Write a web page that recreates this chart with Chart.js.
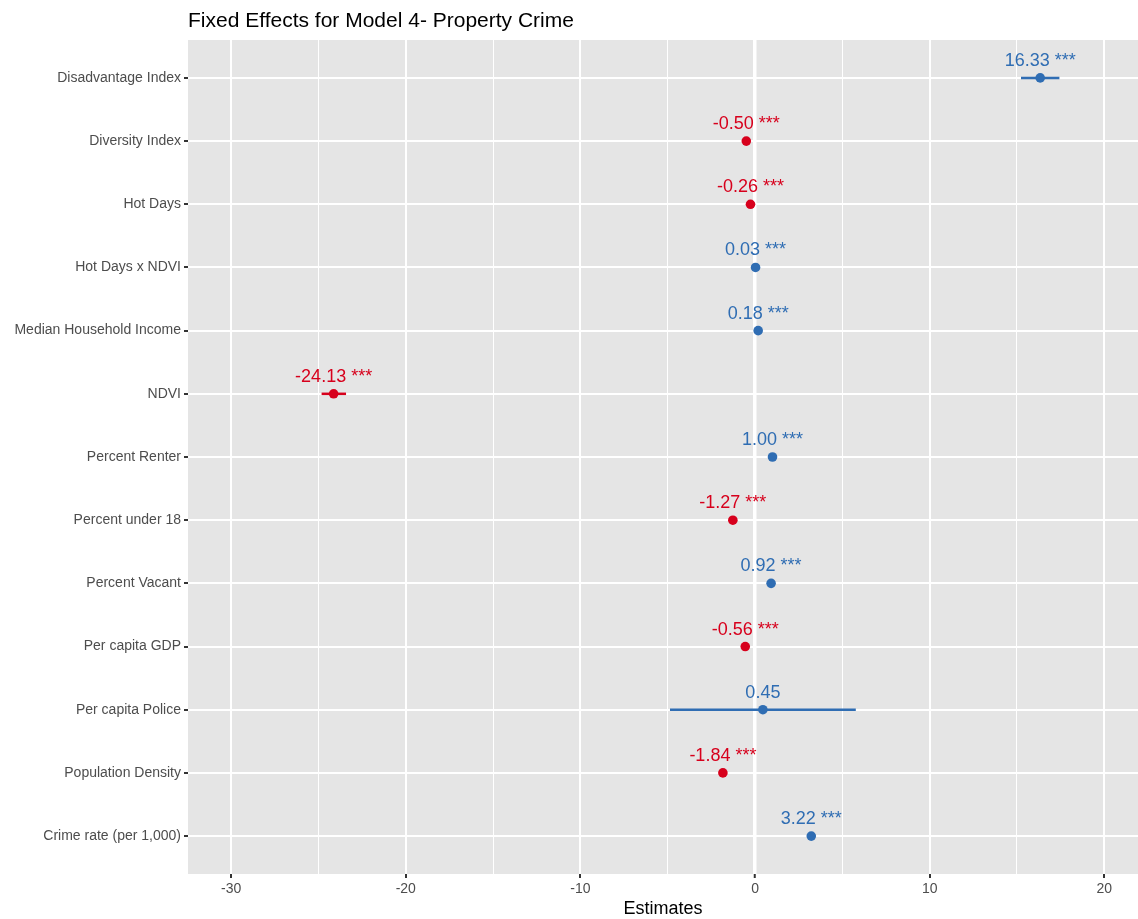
<!DOCTYPE html>
<html>
<head>
<meta charset="utf-8">
<script src="https://cdn.jsdelivr.net/npm/chart.js@4.4.1/dist/chart.umd.min.js"></script>
<style>
  html, body { margin: 0; padding: 0; background: #fff; }
  canvas { display: block; }
</style>
</head>
<body>
<canvas id="fx" width="1138" height="919"></canvas>
<script>
// Fixed effects, Model 4 (property crime) — estimates with 95% CIs, top to bottom.
const terms = [
  "Disadvantage Index", "Diversity Index", "Hot Days", "Hot Days x NDVI",
  "Median Household Income", "NDVI", "Percent Renter", "Percent under 18",
  "Percent Vacant", "Per capita GDP", "Per capita Police", "Population Density",
  "Crime rate (per 1,000)"
];
const estimates = [16.33, -0.50, -0.26, 0.03, 0.18, -24.13, 1.00, -1.27, 0.92, -0.56, 0.45, -1.84, 3.22];
const ciLow     = [15.23, -0.58, -0.32, -0.02, 0.12, -24.82, 0.93, -1.34, 0.85, -0.63, -4.87, -1.92, 3.14];
const ciHigh    = [17.43, -0.42, -0.20, 0.08, 0.24, -23.42, 1.07, -1.20, 0.99, -0.49, 5.77, -1.76, 3.30];
const stars     = ["***", "***", "***", "***", "***", "***", "***", "***", "***", "***", "", "***", "***"];
const xTicks    = [-30, -25, -20, -15, -10, -5, 0, 5, 10, 15, 20];
const xLabelled = [-30, -20, -10, 0, 10, 20];

const BLUE = "#2f6db3", RED = "#d7001c";
const colorOf = (v) => v >= 0 ? BLUE : RED;
const FONT = "'Liberation Sans', Arial, sans-serif";

// CI whiskers under the dots, value labels above them.
const forest = {
  id: "forest",
  beforeDatasetsDraw(c) {
    const { ctx, scales: { x, y } } = c;
    ctx.save();
    ctx.lineWidth = 2.5;
    estimates.forEach((v, i) => {
      const py = y.getPixelForValue(i);
      ctx.strokeStyle = colorOf(v);
      ctx.beginPath();
      ctx.moveTo(x.getPixelForValue(ciLow[i]), py);
      ctx.lineTo(x.getPixelForValue(ciHigh[i]), py);
      ctx.stroke();
    });
    ctx.restore();
  },
  afterDatasetsDraw(c) {
    const { ctx, scales: { x, y } } = c;
    ctx.save();
    ctx.font = `18px ${FONT}`;
    ctx.textAlign = "center";
    ctx.textBaseline = "alphabetic";
    estimates.forEach((v, i) => {
      const txt = v.toFixed(2) + (stars[i] ? " " + stars[i] : "");
      ctx.fillStyle = colorOf(v);
      ctx.fillText(txt, x.getPixelForValue(v), y.getPixelForValue(i) - 12);
    });
    ctx.restore();
  },
  afterDraw(c) {
    const { ctx, chartArea: a } = c;
    ctx.save();
    ctx.fillStyle = "#000";
    ctx.font = `21px ${FONT}`;
    ctx.textAlign = "left";
    ctx.textBaseline = "alphabetic";
    ctx.fillText("Fixed Effects for Model 4- Property Crime", a.left, 27);
    ctx.font = `18px ${FONT}`;
    ctx.textAlign = "center";
    ctx.fillText("Estimates", (a.left + a.right) / 2, 914);
    ctx.restore();
  },
};

const isMajor = (v) => xLabelled.includes(v);

new Chart(document.getElementById("fx"), {
  type: "scatter",
  data: {
    datasets: [{
      data: estimates.map((v, i) => ({ x: v, y: i })),
      pointRadius: 4.8,
      pointHoverRadius: 4.8,
      pointBorderWidth: 0,
      pointBackgroundColor: estimates.map(colorOf),
      showLine: false,
    }],
  },
  options: {
    responsive: false,
    animation: false,
    layout: { autoPadding: false, padding: { top: 40, right: 0, left: 0, bottom: 0 } },
    plugins: { legend: { display: false }, tooltip: { enabled: false }, title: { display: false } },
    scales: {
      x: {
        type: "linear",
        min: -32.47, max: 21.93,
        afterBuildTicks: (s) => { s.ticks = xTicks.map(v => ({ value: v })); },
        afterFit: (s) => { s.height = 45; s.paddingLeft = 0; s.paddingRight = 0; },
        border: { display: false },
        grid: {
          color: "#ffffff",
          lineWidth: (ctx) => ctx.tick && ctx.tick.value === 0 ? 3.5 : (ctx.tick && isMajor(ctx.tick.value) ? 2 : 1),
          tickLength: 4,
          tickColor: (ctx) => ctx.tick && isMajor(ctx.tick.value) ? "#333333" : "rgba(0,0,0,0)",
          tickWidth: 2,
        },
        ticks: {
          autoSkip: false,
          maxRotation: 0,
          padding: 3,
          color: "#4d4d4d",
          font: { family: FONT, size: 14 },
          callback: (v) => isMajor(v) ? String(v) : "",
        },
      },
      y: {
        type: "linear",
        reverse: true,
        min: -0.6, max: 12.6,
        afterBuildTicks: (s) => { s.ticks = terms.map((_, i) => ({ value: i })); },
        afterFit: (s) => { s.width = 188; s.paddingTop = 0; s.paddingBottom = 0; },
        border: { display: false },
        grid: { color: "#ffffff", lineWidth: 2, tickLength: 4, tickColor: "#333333", tickWidth: 2 },
        ticks: {
          autoSkip: false,
          padding: 3,
          color: "#4d4d4d",
          font: { family: FONT, size: 14 },
          callback: (v) => terms[v] ?? "",
        },
      },
    },
  },
  plugins: [{
    id: "panelBg",
    beforeDraw(c) {
      const { ctx, chartArea: a } = c;
      ctx.save();
      ctx.fillStyle = "#e5e5e5";
      ctx.fillRect(a.left, a.top, a.right - a.left, a.bottom - a.top);
      ctx.restore();
    },
  }, forest],
});
</script>
</body>
</html>
